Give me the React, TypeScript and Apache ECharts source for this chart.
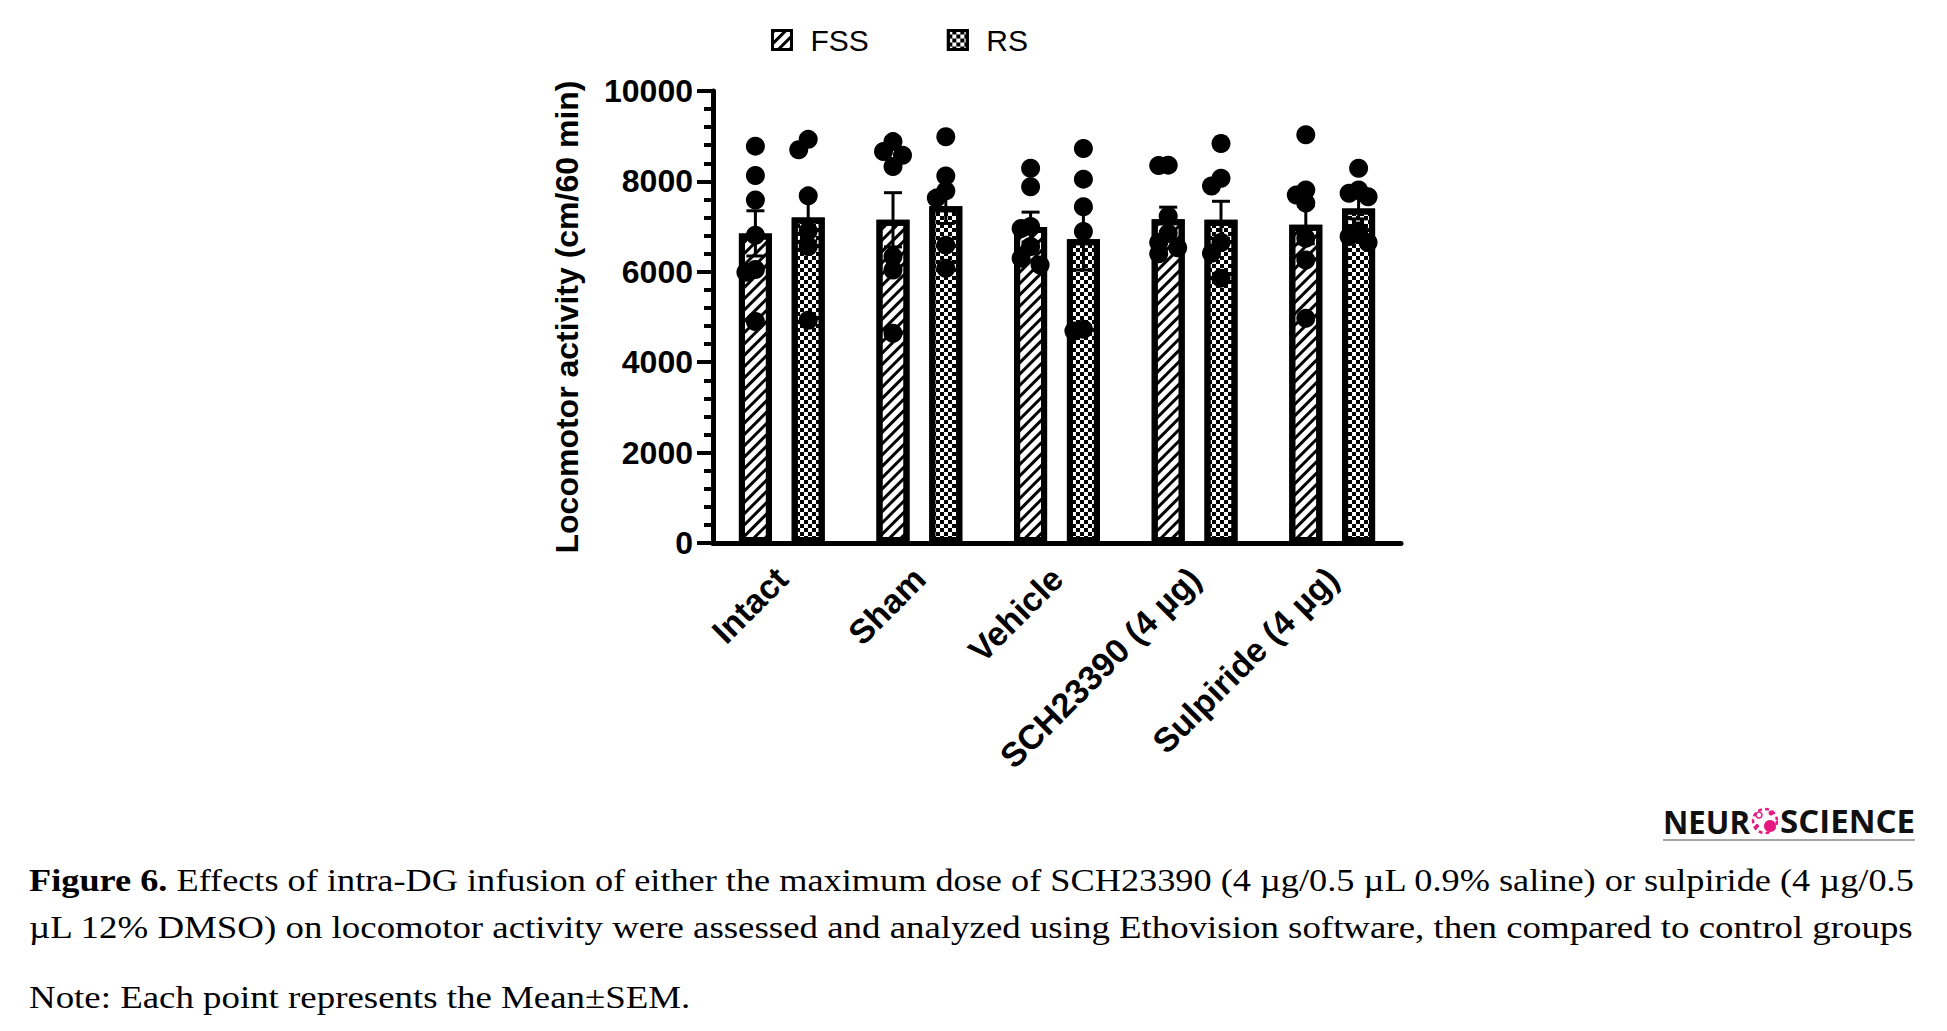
import React, { useEffect, useRef } from "react";
import * as echarts from "echarts";

// ---------- data ----------
const categories = ["Intact", "Sham", "Vehicle", "SCH23390 (4 µg)", "Sulpiride (4 µg)"];
const seriesNames = ["FSS", "RS"];
const fssMean = [6850, 7150, 6990, 7160, 7040];
const fssSem = [500, 600, 330, 270, 420];
const rsMean = [7200, 7450, 6720, 7150, 7400];
const rsSem = [520, 380, 680, 410, 230];
const fssPoints = [
  [8780, 8130, 7590, 6810, 6050, 5990, 4900],
  [8880, 8660, 8580, 8330, 6340, 6040, 4640],
  [8290, 7880, 7000, 6960, 6560, 6300, 6150],
  [8360, 8350, 7230, 6850, 6650, 6530, 6400],
  [9030, 7810, 7700, 7520, 6740, 6260, 4970],
];
const rsPoints = [
  [8930, 8700, 7680, 6900, 6560, 4930],
  [8990, 8120, 7790, 7630, 6590, 6080],
  [8730, 8050, 7440, 6890, 4730, 4690],
  [8840, 8070, 7900, 6650, 6410, 5860],
  [8290, 7810, 7740, 7660, 6900, 6780, 6650],
];
const yMin = 0;
const yMax = 10000;
const yInterval = 2000;
const yAxisTitle = "Locomotor activity (cm/60 min)";
const captionLine1Bold = "Figure 6.";
const captionLine1 = " Effects of intra-DG infusion of either the maximum dose of SCH23390 (4 µg/0.5 µL 0.9% saline) or sulpiride (4 µg/0.5";
const captionLine2 = "µL 12% DMSO) on locomotor activity were assessed and analyzed using Ethovision software, then compared to control groups";
const noteLine = "Note: Each point represents the Mean±SEM.";
const logoLeft = "NEUR";
const logoRight = "SCIENCE";

// ---------- layout ----------
const W = 1947;
const H = 1031;
const GRID_L = 713;
const GRID_R = 1401;
const GRID_T = 91;
const GRID_B = 543;
const BAR_W = 33;
const BAR_GAP = 0.6;
const BAR_OFFSET = (BAR_W + BAR_W * BAR_GAP) / 2;
const DOT_R = 9.5;
const SANS = "Liberation Sans";
const SERIF = "Liberation Serif";
const CAP_SIZE = 32;
const CAP_LEFT = 29;
const CAP_RIGHT = 1915;
const LOGO_FONT = "Open Sans";
const LOGO_SIZE = 32;

function measure(text: string, font: string): number {
  const c = document.createElement("canvas");
  const ctx = c.getContext("2d")!;
  ctx.font = font;
  return ctx.measureText(text).width;
}

function swarm(ys: number[], D: number): number[] {
  const idx = ys.map((_, i) => i).sort((a, b) => ys[a] - ys[b]);
  const placed: { x: number; y: number }[] = [];
  const out = new Array(ys.length).fill(0);
  const step = D * 0.5;
  const cands = [0, -step, step];
  for (const i of idx) {
    let best = 0;
    let bestScore = -Infinity;
    for (const c of cands) {
      const minD = placed.length
        ? Math.min(...placed.map((p) => Math.hypot(p.x - c, p.y - ys[i])))
        : Infinity;
      if (minD >= D * 0.65) {
        best = c;
        bestScore = Infinity;
        break;
      }
      if (minD > bestScore) {
        bestScore = minD;
        best = c;
      }
    }
    placed.push({ x: best, y: ys[i] });
    out[i] = best;
  }
  return out;
}

export default function App() {
  const ref = useRef<HTMLDivElement>(null);

  useEffect(() => {
    if (!ref.current) return;
    const chart = echarts.init(ref.current, undefined, { renderer: "svg", width: W, height: H });

    const hatch = {
      symbol: "rect",
      symbolSize: 1,
      color: "#000",
      backgroundColor: "#fff",
      dashArrayX: [1, 0],
      dashArrayY: [3, 5],
      rotation: -Math.PI / 4,
    };
    const checker = {
      symbol: "rect",
      symbolSize: 1,
      color: "#000",
      backgroundColor: "#fff",
      dashArrayX: [
        [4, 4],
        [0, 4, 4, 0],
      ],
      dashArrayY: [4, 0],
      rotation: 0,
    };

    const errRender = (side: number) => (params: any, api: any) => {
      const i = api.value(0);
      const m = api.value(1);
      const s = api.value(2);
      const top = api.coord([i, m + s]);
      const bot = api.coord([i, m - s]);
      const x = top[0] + (side === 0 ? -BAR_OFFSET : BAR_OFFSET);
      const st = { stroke: "#000", lineWidth: 3 };
      return {
        type: "group",
        children: [
          { type: "line", shape: { x1: x, y1: top[1], x2: x, y2: bot[1] }, style: st },
          { type: "line", shape: { x1: x - 9, y1: top[1], x2: x + 9, y2: top[1] }, style: st },
          { type: "line", shape: { x1: x - 9, y1: bot[1], x2: x + 9, y2: bot[1] }, style: st },
        ],
      };
    };

    const cache: Record<number, number[]> = {};
    const dotData: number[][] = [];
    [fssPoints, rsPoints].forEach((grp, s) => {
      grp.forEach((pts, g) => {
        pts.forEach((v, k) => dotData.push([g, v, s, k]));
      });
    });
    const dotRender = (params: any, api: any) => {
      const g = api.value(0);
      const v = api.value(1);
      const s = api.value(2);
      const k = api.value(3);
      const pts = s === 0 ? fssPoints[g] : rsPoints[g];
      const key = g * 2 + s;
      if (!cache[key]) {
        const ys = pts.map((p) => api.coord([g, p])[1]);
        cache[key] = swarm(ys, DOT_R * 2);
      }
      const c = api.coord([g, v]);
      const x = c[0] + (s === 0 ? -BAR_OFFSET : BAR_OFFSET) + cache[key][k];
      return { type: "circle", shape: { cx: x, cy: c[1], r: DOT_R }, style: { fill: "#000" } };
    };

    // caption fitting
    const boldFont = `bold ${CAP_SIZE}px "${SERIF}"`;
    const regFont = `${CAP_SIZE}px "${SERIF}"`;
    const w1 = measure(captionLine1Bold, boldFont) + measure(captionLine1, regFont);
    const w2 = measure(captionLine2, regFont);
    const s1 = (CAP_RIGHT - CAP_LEFT) / w1;
    const s2 = (CAP_RIGHT - CAP_LEFT) / w2;

    const logoFont = `bold ${LOGO_SIZE}px "${LOGO_FONT}"`;
    const sl = 87 / measure(logoLeft, logoFont);
    const sr = 135 / measure(logoRight, logoFont);

    const capStyle = (text: string) => ({
      text,
      fontFamily: SERIF,
      fontSize: CAP_SIZE,
      fill: "#000",
      align: "left",
      verticalAlign: "middle",
      rich: { b: { fontFamily: SERIF, fontSize: CAP_SIZE, fontWeight: "bold", fill: "#000" } },
    });
    const logoStyle = (text: string, align: string) => ({
      text,
      fontFamily: LOGO_FONT,
      fontWeight: "bold",
      fontSize: LOGO_SIZE,
      fill: "#111",
      align,
      verticalAlign: "middle",
    });

    const pink = "#e5197f";
    const logoY = 821;
    const iconX = 1765;

    chart.setOption({
      animation: false,
      backgroundColor: "#fff",
      grid: { left: GRID_L, top: GRID_T, width: GRID_R - GRID_L, height: GRID_B - GRID_T, containLabel: false },
      legend: {
        data: seriesNames,
        left: 766,
        top: 20,
        itemWidth: 19,
        itemHeight: 19,
        itemGap: 78,
        icon: "rect",
        itemStyle: { borderWidth: 3, borderColor: "#000" },
        textStyle: { fontSize: 30, fontFamily: SANS, color: "#000", padding: [0, 0, 0, 14] },
        selectedMode: false,
      },
      xAxis: {
        type: "category",
        data: categories,
        axisLine: { lineStyle: { color: "#000", width: 5 } },
        axisTick: { alignWithLabel: true, length: 20, lineStyle: { color: "#000", width: 4 } },
        axisLabel: {
          interval: 0,
          rotate: 45,
          margin: 30,
          fontSize: 34,
          fontWeight: "bold",
          fontFamily: SANS,
          color: "#000",
        },
        splitLine: { show: false },
      },
      yAxis: {
        type: "value",
        min: yMin,
        max: yMax,
        interval: yInterval,
        name: yAxisTitle,
        nameLocation: "middle",
        nameRotate: 90,
        nameGap: 130,
        nameTextStyle: { fontSize: 32, fontWeight: "bold", fontFamily: SANS, color: "#000" },
        axisLine: { show: true, lineStyle: { color: "#000", width: 5 } },
        axisTick: { show: true, length: 16, lineStyle: { color: "#000", width: 4 } },
        minorTick: { show: true, splitNumber: 5, length: 9, lineStyle: { color: "#000", width: 4 } },
        axisLabel: {
          margin: 20,
          fontSize: 32,
          fontWeight: "bold",
          fontFamily: SANS,
          color: "#000",
          formatter: (v: number) => String(v),
        },
        splitLine: { show: false },
        minorSplitLine: { show: false },
      },
      series: [
        {
          name: seriesNames[0],
          type: "bar",
          data: fssMean,
          barWidth: BAR_W,
          barGap: `${BAR_GAP * 100}%`,
          itemStyle: { color: "#fff", borderColor: "#000", borderWidth: 6, decal: hatch },
          z: 2,
        },
        {
          name: seriesNames[1],
          type: "bar",
          data: rsMean,
          barWidth: BAR_W,
          barGap: `${BAR_GAP * 100}%`,
          itemStyle: { color: "#fff", borderColor: "#000", borderWidth: 6, decal: checker },
          z: 2,
        },
        {
          name: "errFSS",
          type: "custom",
          data: fssMean.map((m, i) => [i, m, fssSem[i]]),
          renderItem: errRender(0),
          z: 3,
          silent: true,
        },
        {
          name: "errRS",
          type: "custom",
          data: rsMean.map((m, i) => [i, m, rsSem[i]]),
          renderItem: errRender(1),
          z: 3,
          silent: true,
        },
        {
          name: "dots",
          type: "custom",
          data: dotData,
          renderItem: dotRender,
          z: 4,
          silent: true,
        },
      ],
      graphic: [
        { type: "text", x: 1663, y: logoY, scaleX: sl, style: logoStyle(logoLeft, "left") },
        { type: "text", x: 1915, y: logoY, scaleX: sr, style: logoStyle(logoRight, "right") },
        {
          type: "circle",
          shape: { cx: iconX, cy: logoY, r: 12 },
          style: { fill: "none", stroke: pink, lineWidth: 2.5, lineDash: [4, 3] },
        },
        { type: "circle", shape: { cx: iconX + 5, cy: logoY + 5, r: 6 }, style: { fill: pink } },
        { type: "circle", shape: { cx: iconX - 6, cy: logoY - 6, r: 3 }, style: { fill: "none", stroke: pink, lineWidth: 1.5 } },
        { type: "circle", shape: { cx: iconX + 6, cy: logoY - 8, r: 2.5 }, style: { fill: pink } },
        { type: "circle", shape: { cx: iconX - 8, cy: logoY + 5, r: 2 }, style: { fill: pink } },
        {
          type: "line",
          shape: { x1: 1663, y1: 840, x2: 1915, y2: 840 },
          style: { stroke: "#8a8a8a", lineWidth: 1.5 },
        },
        {
          type: "text",
          x: CAP_LEFT,
          y: 880,
          scaleX: s1,
          style: capStyle(`{b|${captionLine1Bold}}${captionLine1}`),
        },
        {
          type: "text",
          x: CAP_LEFT,
          y: 927,
          scaleX: s2,
          style: capStyle(captionLine2),
        },
        {
          type: "text",
          x: CAP_LEFT,
          y: 997,
          scaleX: s2,
          style: capStyle(noteLine),
        },
      ],
    });

    return () => chart.dispose();
  }, []);

  return (
    <div
      ref={ref}
      style={{ position: "fixed", left: 0, top: 0, width: W, height: H, background: "#fff" }}
    />
  );
}
